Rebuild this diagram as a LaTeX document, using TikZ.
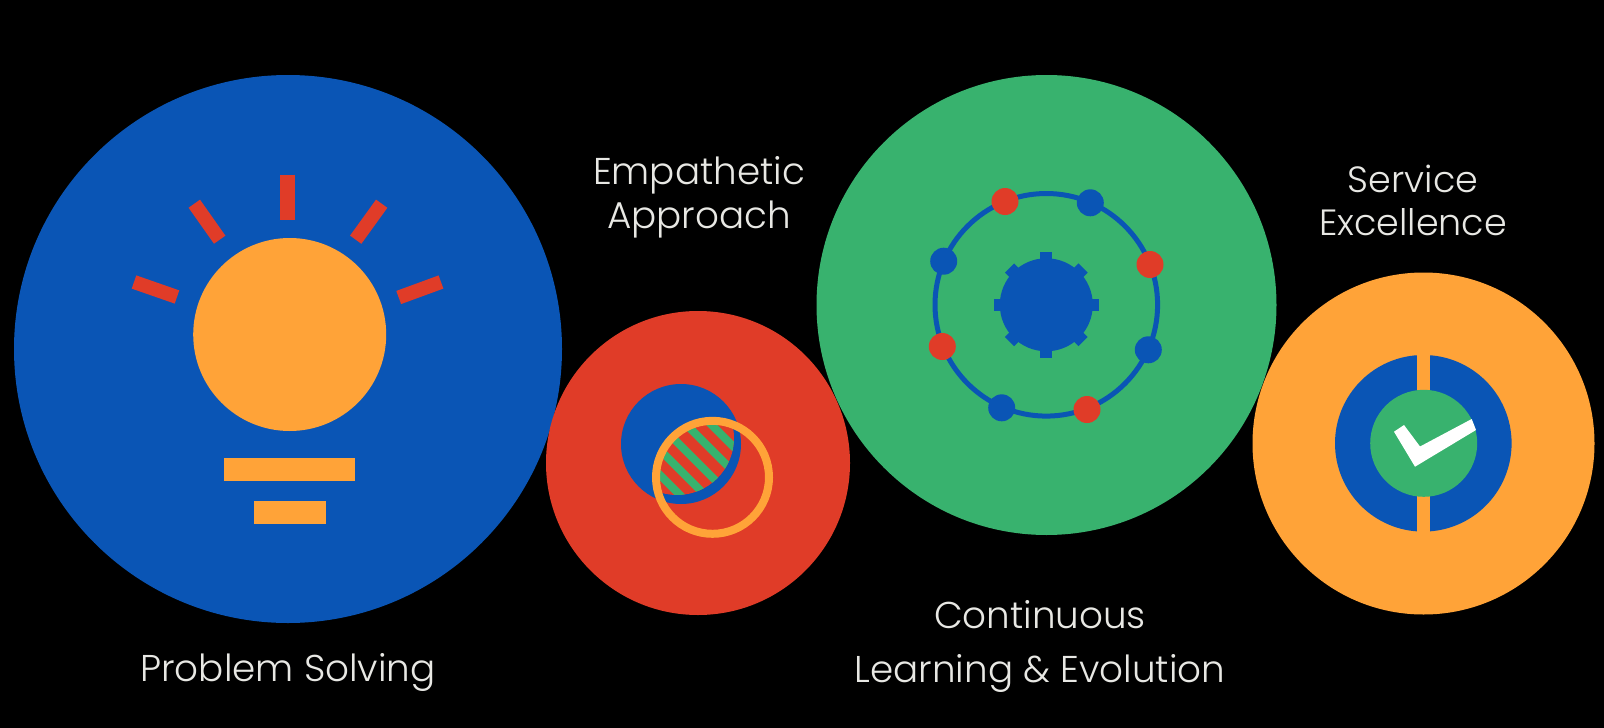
\documentclass[tikz,border=0pt]{standalone}
\usepackage{fontspec}
\setmainfont{Poppins}[UprightFont={* Light}]
\definecolor{cblue}{HTML}{0A55B5}
\definecolor{cred}{HTML}{E03C28}
\definecolor{cgreen}{HTML}{38B26E}
\definecolor{corange}{HTML}{FFA338}
\definecolor{ctext}{HTML}{E8E8E4}
\tikzset{
  lbl/.style={text=ctext,font=\fontsize{37.3}{43.5}\selectfont,align=center,inner sep=0pt},
  ray/.style={draw=cred,line width=14pt},
  bluedot/.style={circle,fill=cblue,minimum size=27pt,inner sep=0pt},
  reddot/.style={circle,fill=cred,minimum size=27pt,inner sep=0pt},
  stripe/.style={draw=cgreen,line width=8pt}
}
\begin{document}
\begin{tikzpicture}[x=1pt,y=-1pt]
\useasboundingbox (0,0) rectangle (1604,728);
\fill[black] (0,0) rectangle (1604,728);
% main discs
\fill[cblue] (288,349) circle[radius=274];
\fill[cred] (698,463) circle[radius=152];
\fill[cgreen] (1046.5,305) circle[radius=230];
\fill[corange] (1423.5,443.5) circle[radius=171];
% bulb
\fill[corange] (289.7,334.5) circle[radius=96.5];
\fill[corange] (224.3,457.5) rectangle (355,480.5);
\fill[corange] (254,500.5) rectangle (325.7,523.5);
\draw[ray,line width=15pt] (287.8,174.5) -- (287.8,219.5);
\draw[ray] (194.3,203.7) -- (219.7,239.7);
\draw[ray] (381.7,203.7) -- (355.7,239.7);
\draw[ray] (134,282) -- (177,297);
\draw[ray] (441,282) -- (398.7,297.5);
% empathy
\fill[cblue] (681,444) circle[radius=60];
\begin{scope}
  \clip (712.5,477.3) circle[radius=56.5];
  \clip (677,438) circle[radius=57];
  \fill[cred] (600,380) rectangle (780,540);
  \foreach \d in {286.7,261.7,235,210,185}{
    \draw[stripe] (600,600-\d) -- (800,800-\d);
  }
\end{scope}
\draw[corange,line width=8pt] (712.5,477.3) circle[radius=56.5];
% learning
\draw[cblue,line width=5pt] (1046.3,304.8) circle[radius=111.3];
\fill[cblue] (1046.3,304.8) circle[radius=46.5];
\foreach \a in {0,90,180,270}{
  \fill[cblue,rotate around={\a:(1046.3,304.8)}] (1040.3,304.8) rectangle (1052.3,252);
}
\foreach \a in {45,135,225,315}{
  \fill[cblue,rotate around={\a:(1046.3,304.8)}] (1039.8,304.8) rectangle (1052.8,252.8);
}
\node[reddot] (d1) at (1005,201.5) {};
\node[bluedot] (d2) at (1090.3,202.8) {};
\node[reddot] (d3) at (1150,264.5) {};
\node[bluedot] (d4) at (1148.3,349.8) {};
\node[reddot] (d5) at (1087,409.5) {};
\node[bluedot] (d6) at (1001.7,407.8) {};
\node[reddot] (d7) at (942.3,346.5) {};
\node[bluedot] (d8) at (943.7,261.2) {};
% service
\fill[cblue] (1423.3,443.3) circle[radius=88.3];
\fill[corange] (1417.3,350) rectangle (1430,537);
\fill[cgreen] (1423.7,443.3) circle[radius=53.5];
\fill[white] (1394,431.7) -- (1404,425) -- (1420,446.5) -- (1471.7,419) -- (1476,430) -- (1415,466.7) -- cycle;
% labels
\node[lbl] (ps) at (288,672.5) {Problem Solving};
\node[lbl] (ea) at (699,197.5) {Empathetic\\Approach};
\node[lbl,font=\fontsize{37.3}{54}\selectfont] (cl) at (1040,646) {Continuous\\Learning \& Evolution};
\node[lbl,font=\fontsize{36.5}{43}\selectfont] (se) at (1413,200) {Service\\Excellence};
\end{tikzpicture}
\end{document}
